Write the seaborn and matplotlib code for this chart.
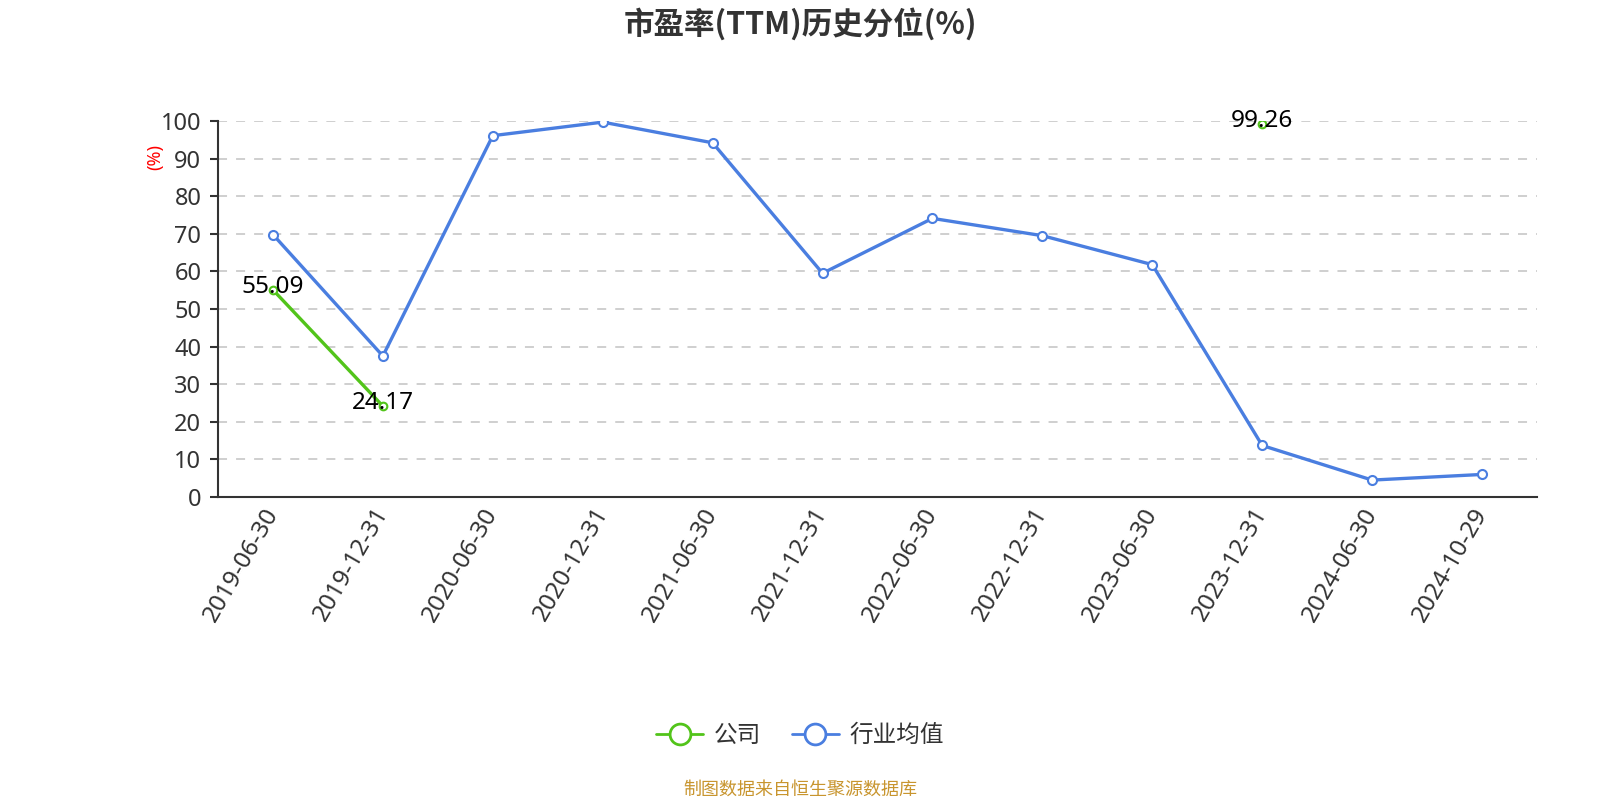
import numpy as np
import pandas as pd
import matplotlib
matplotlib.use("Agg")
import matplotlib.pyplot as plt
import matplotlib.transforms as mtransforms
from matplotlib.lines import Line2D
import seaborn as sns

# data
dates = ["2019-06-30", "2019-12-31", "2020-06-30", "2020-12-31", "2021-06-30",
         "2021-12-31", "2022-06-30", "2022-12-31", "2023-06-30", "2023-12-31",
         "2024-06-30", "2024-10-29"]
company = [55.09, 24.17, None, None, None, None, None, None, None, 99.26, None, None]
industry = [69.8, 37.5, 96.1, 99.7, 94.2, 59.5, 74.1, 69.5, 61.8, 13.7, 4.5, 6.0]
y_ticks = list(range(0, 101, 10))

GREEN = "#52c41a"
BLUE = "#4a7ee0"

sns.set_theme(style="white")
plt.rcParams['font.family'] = ['Noto Sans', 'Noto Sans CJK SC', 'DejaVu Sans']
plt.rcParams['axes.unicode_minus'] = False

df = pd.DataFrame({"pos": np.arange(len(dates)), "date": dates,
                   "company": pd.array(company, dtype="Float64").astype(float),
                   "industry": industry})

fig = plt.figure(figsize=(16, 8), dpi=100)
ax = fig.add_axes([218 / 1600, 1 - 497 / 800, (1537 - 218) / 1600, (497 - 121) / 800])

# company line: draw each run of consecutive values separately so gaps stay open
has_val = df["company"].notna()
seg_id = (~has_val).cumsum()
for _, seg in df[has_val].groupby(seg_id[has_val]):
    sns.lineplot(data=seg, x="pos", y="company", ax=ax, color=GREEN, linewidth=2.4,
                 marker="o", markersize=5.5, markerfacecolor="white",
                 markeredgecolor=GREEN, markeredgewidth=1.5, zorder=3)

sns.lineplot(data=df, x="pos", y="industry", ax=ax, color=BLUE, linewidth=2.4,
             marker="o", markersize=6.5, markerfacecolor="white",
             markeredgecolor=BLUE, markeredgewidth=1.5, zorder=4)

for p, v in zip(df["pos"], df["company"]):
    if not np.isnan(v):
        ax.annotate(f"{v:.2f}", (p, v), xytext=(0, 2), textcoords="offset points",
                    ha="center", va="center", fontsize=17.5, color="black", zorder=5)

ax.set_xlim(-0.5, len(dates) - 0.5)
ax.set_ylim(0, 100)
ax.set_yticks(y_ticks)
ax.set_yticklabels([str(t) for t in y_ticks], fontsize=17, color="#333333")
ax.set_xticks(df["pos"])
ax.set_xticklabels(dates, rotation=60, ha="right", va="center", rotation_mode="anchor",
                   fontsize=17.5, color="#333333")
shift = mtransforms.ScaledTranslation(-9 / 100, 0, fig.dpi_scale_trans)
for lab in ax.get_xticklabels():
    lab.set_transform(lab.get_transform() + shift)
ax.set_xticks(np.arange(-0.5, len(dates)), minor=True)
ax.tick_params(axis="x", which="major", length=0, pad=9)
ax.tick_params(axis="x", which="minor", length=7, width=1.5, color="#333333", direction="out")
ax.tick_params(axis="y", length=6, width=1.5, color="#333333", pad=6, left=True)

ax.yaxis.grid(True, linestyle=(0, (5, 5)), color="#cccccc", linewidth=1.3)
ax.xaxis.grid(False)
for s in ["top", "right"]:
    ax.spines[s].set_visible(False)
for s in ["left", "bottom"]:
    ax.spines[s].set_color("#333333")
    ax.spines[s].set_linewidth(1.5)

ax.set_xlabel("")
ax.set_ylabel("(%)", color="red", fontsize=13)
ax.yaxis.set_label_coords(-0.041, 0.905)

fig.text(0.5, 1 - 24 / 800, "市盈率(TTM)历史分位(%)", ha="center", va="center",
         fontsize=22, fontweight="bold", color="#333333",
         family=['Noto Sans CJK SC', 'DejaVu Sans'])

handles = [Line2D([0], [0], color=GREEN, linewidth=2, marker="o", markersize=15,
                  markerfacecolor="white", markeredgecolor=GREEN, markeredgewidth=2),
           Line2D([0], [0], color=BLUE, linewidth=2, marker="o", markersize=15,
                  markerfacecolor="white", markeredgecolor=BLUE, markeredgewidth=2)]
leg = fig.legend(handles, ["公司", "行业均值"], loc="center", bbox_to_anchor=(0.5, 1 - 736 / 800),
                 ncol=2, frameon=False, fontsize=17, handlelength=2.0, columnspacing=1.3,
                 handletextpad=0.45)
for t in leg.get_texts():
    t.set_color("#333333")

fig.text(0.5, 1 - 790 / 800, "制图数据来自恒生聚源数据库", ha="center", va="center",
         fontsize=13, color="#c8952e")

fig.savefig("out.png", dpi=100)
